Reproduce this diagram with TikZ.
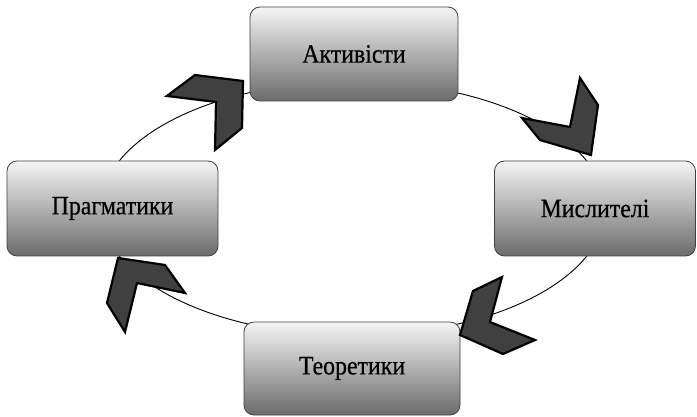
\documentclass[tikz,border=0pt]{standalone}
\usepackage{graphicx}
\usepackage{fontspec}
\setmainfont{Liberation Serif}
\newfontfamily\boxfont[FakeBold=0.5]{Liberation Serif}
\newcommand{\cond}[1]{\scalebox{0.9}[1]{#1}}
\begin{document}
\begin{tikzpicture}[x=1pt,y=-1pt,
  box/.style={draw=black!75, line width=0.8pt, rounded corners=10pt, top color=black!4, bottom color=black!58, font=\boxfont\fontsize{26.5}{28}\selectfont, inner sep=0pt},
  chev/.style={fill=black!75, draw=black, line width=2.2pt, line join=miter},
  ring/.style={draw=black, line width=0.9pt}]
\useasboundingbox (0,0) rectangle (697,417);
\path[ring] (353,208.5) ellipse [x radius=252pt, y radius=127pt];
\node[box, minimum width=208pt, minimum height=94pt] (a) at (354,54) {\cond{Активісти}};
\node[box, minimum width=201pt, minimum height=95pt] (m) at (595,208.5) {\cond{Мислителі}};
\node[box, minimum width=211pt, minimum height=95pt] (p) at (112.5,208.5) {\cond{Прагматики}};
\node[box, minimum width=216pt, minimum height=93pt] (t) at (352,368.5) {\cond{Теоретики}};
\path[chev] (167,96) -- (195,75) -- (243,81) -- (242,128) -- (215,150) -- (216,102) -- cycle;
\path[chev] (580,78) -- (598,105) -- (591,155) -- (540,140) -- (522,118) -- (570,127) -- cycle;
\path[chev] (502,277) -- (473,291) -- (460,335) -- (503,354) -- (535,340) -- (490,322) -- cycle;
\path[chev] (118,258) -- (165,265) -- (185,293) -- (137,283) -- (125,332) -- (107,303) -- cycle;
\end{tikzpicture}
\end{document}
